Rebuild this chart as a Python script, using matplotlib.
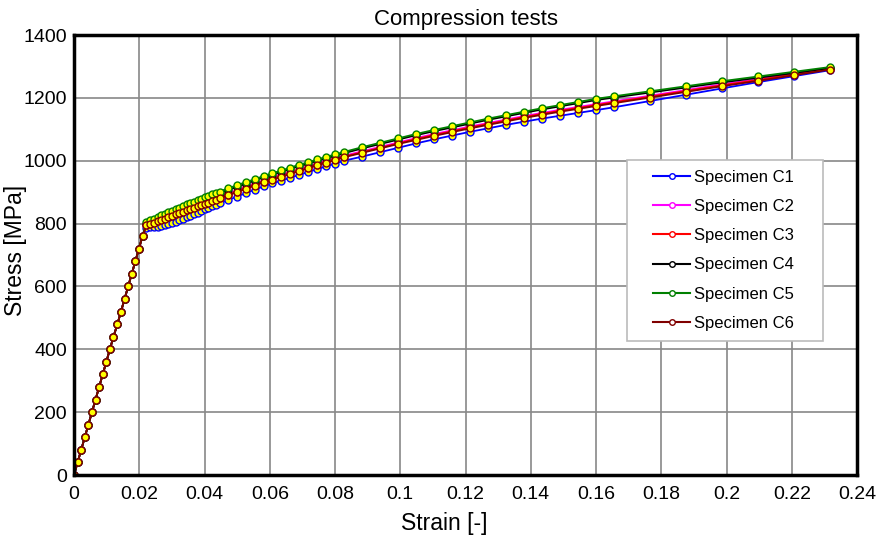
import matplotlib
matplotlib.use("Agg")
import matplotlib.pyplot as plt
from matplotlib.lines import Line2D
from matplotlib.legend_handler import HandlerLine2D
from matplotlib.ticker import FuncFormatter

plt.rcParams['font.family'] = ['Liberation Sans', 'DejaVu Sans']

# elastic part (shared by all specimens)
elastic_strain = [0, 0.0011, 0.0022, 0.0033, 0.0044, 0.0055, 0.0066, 0.0077, 0.0088, 0.0099,
                  0.0110, 0.0121, 0.0133, 0.0144, 0.0155, 0.0166, 0.0177, 0.0188, 0.0199, 0.0210]
elastic_stress = [0, 40, 80, 120, 160, 200, 240, 280, 320, 360,
                  400, 440, 480, 520, 560, 600, 640, 680, 720, 760]

# plastic part strain points
plastic_strain = [0.0222, 0.0233, 0.0244, 0.0256, 0.0267, 0.0278, 0.0289, 0.0300, 0.0312, 0.0323,
                  0.0334, 0.0345, 0.0356, 0.0368, 0.0379, 0.0390, 0.0401, 0.0412, 0.0424, 0.0435, 0.0446,
                  0.0472, 0.0500, 0.0527, 0.0554, 0.0581, 0.0608, 0.0636, 0.0663, 0.0690, 0.0718,
                  0.0745, 0.0773, 0.0800, 0.0828,
                  0.0883, 0.0938, 0.0993, 0.1048, 0.1104, 0.1159, 0.1214, 0.1269, 0.1324, 0.1379,
                  0.1434, 0.1490, 0.1545, 0.1600,
                  0.1655, 0.1766, 0.1876, 0.1986, 0.2097, 0.2207, 0.2317]

c1 = [787, 788, 789, 790, 792, 795, 798, 802, 806, 810, 815, 820, 825, 830, 835, 840, 845, 850, 855, 860, 865,
      875, 886, 897, 908, 918, 928, 937, 946, 955, 964, 973, 982, 991, 1000,
      1013, 1027, 1041, 1055, 1068, 1080, 1092, 1103, 1114, 1124, 1134, 1143, 1152, 1161,
      1170, 1190, 1210, 1230, 1250, 1269, 1288]
c2 = [798, 803, 808, 812, 816, 821, 825, 829, 834, 838, 842, 847, 851, 855, 860, 864, 868, 872, 877, 881, 885,
      895, 905, 916, 926, 936, 945, 954, 963, 972, 981, 990, 999, 1007, 1016,
      1030, 1044, 1058, 1072, 1085, 1097, 1109, 1120, 1131, 1142, 1152, 1162, 1171, 1180,
      1189, 1207, 1225, 1243, 1260, 1277, 1294]
c3 = [796, 800, 805, 809, 813, 818, 822, 826, 831, 835, 839, 844, 848, 852, 857, 861, 865, 869, 874, 878, 882,
      892, 902, 913, 923, 933, 942, 951, 960, 969, 978, 987, 996, 1004, 1013,
      1027, 1041, 1055, 1069, 1082, 1094, 1106, 1117, 1128, 1139, 1149, 1159, 1168, 1177,
      1186, 1204, 1222, 1240, 1257, 1275, 1292]
c4 = [798, 803, 808, 813, 818, 823, 828, 833, 838, 843, 848, 853, 858, 863, 868, 872, 877, 882, 887, 891, 896,
      907, 917, 927, 937, 947, 956, 965, 974, 983, 991, 1000, 1008, 1016, 1024,
      1039, 1053, 1067, 1081, 1094, 1106, 1118, 1130, 1141, 1152, 1163, 1173, 1183, 1193,
      1201, 1217, 1233, 1249, 1264, 1279, 1295]
c5 = [806, 811, 816, 821, 826, 831, 836, 841, 846, 851, 856, 861, 865, 870, 875, 879, 884, 888, 893, 897, 902,
      912, 922, 932, 941, 951, 960, 969, 978, 987, 995, 1004, 1012, 1020, 1028,
      1043, 1057, 1071, 1085, 1098, 1110, 1122, 1134, 1145, 1156, 1167, 1177, 1187, 1197,
      1205, 1221, 1237, 1253, 1268, 1283, 1298]
c6 = [795, 799, 803, 807, 811, 816, 820, 824, 829, 833, 837, 842, 846, 850, 855, 859, 863, 867, 872, 876, 880,
      890, 900, 911, 921, 931, 940, 949, 958, 967, 976, 985, 994, 1002, 1011,
      1025, 1039, 1053, 1066, 1079, 1091, 1103, 1114, 1125, 1136, 1146, 1156, 1165, 1174,
      1183, 1201, 1219, 1237, 1254, 1272, 1290]

labels = ['Specimen C1', 'Specimen C2', 'Specimen C3', 'Specimen C4', 'Specimen C5', 'Specimen C6']
colors = ['#0000ff', '#ff00ff', '#ff0000', '#000000', '#008000', '#800000']
series = [c1, c2, c3, c4, c5, c6]

fig = plt.figure(figsize=(8.77, 5.38), dpi=100)
ax = fig.add_axes([74 / 877, 1 - 475 / 538, 783 / 877, 440 / 538])

for s, col in zip(series, colors):
    ax.plot(elastic_strain + plastic_strain, elastic_stress + s, color=col, lw=1.3,
            marker='o', ms=5, mfc='#ffff00', mec=col, mew=1.0)

ax.set_xlim(0, 0.24)
ax.set_ylim(0, 1400)
ax.set_xticks([i * 0.02 for i in range(13)])
ax.set_yticks(range(0, 1401, 200))
ax.xaxis.set_major_formatter(FuncFormatter(lambda v, p: '%g' % round(v, 2)))
ax.grid(True, color='#888888', lw=1.2)
ax.set_axisbelow(True)
ax.tick_params(length=0, labelsize=14)
ax.tick_params(axis='x', pad=8)
ax.tick_params(axis='y', pad=5)
for sp in ax.spines.values():
    sp.set_linewidth(2.5)

ax.set_title('Compression tests', fontsize=16, pad=7)
ax.set_xlabel('Strain [-]', fontsize=16.5)
ax.set_ylabel('Stress [MPa]', fontsize=16.5)
ax.xaxis.set_label_coords(0.4725, -0.085)
ax.yaxis.set_label_coords(-0.06, 0.511)

handles = [Line2D([], [], color=col, lw=1.5, marker='o', ms=4, mfc='white', mec=col)
           for col in colors]
leg = ax.legend(handles, [l + '    ' for l in labels], loc='upper left',
                bbox_to_anchor=(0.706, 0.716), numpoints=1,
                handler_map={Line2D: HandlerLine2D(xpad=1.0)},
                borderaxespad=0, fontsize=12, fancybox=False, framealpha=1,
                edgecolor='#bbbbbb', labelspacing=0.85, handlelength=3.2,
                handletextpad=0.25, borderpad=0.6)
leg.get_frame().set_linewidth(1.2)

fig.savefig('out.png', dpi=100)
